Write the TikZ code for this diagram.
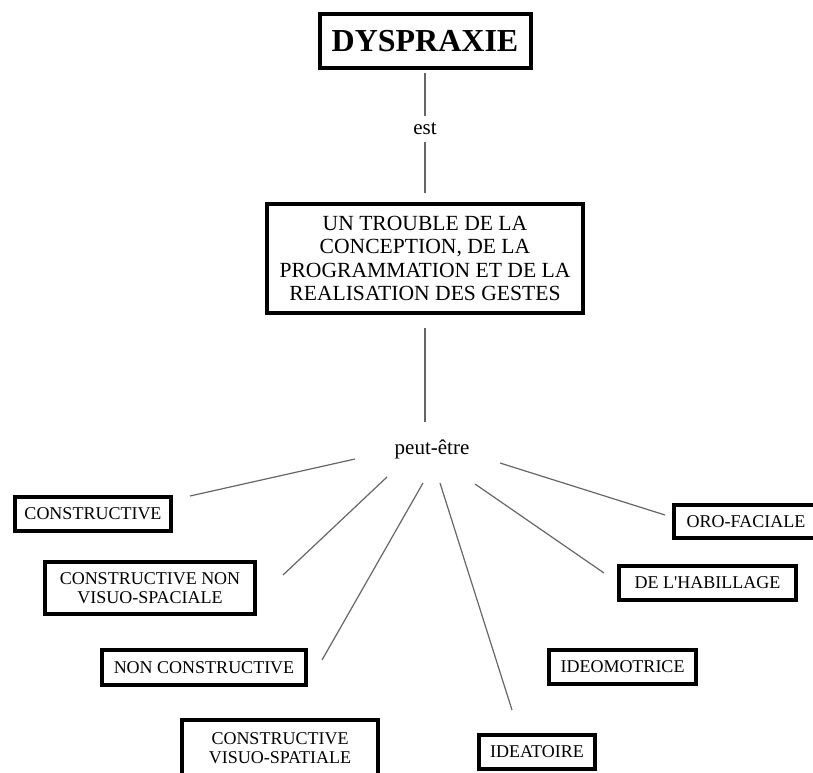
\documentclass[tikz,border=0pt]{standalone}
\usepackage{fontspec}
\setmainfont{Liberation Serif}

\begin{document}
\begin{tikzpicture}[x=0.5pt,y=-0.5pt,
    box/.style={draw, line width=2pt, inner xsep=2pt, inner ysep=1pt, align=center,
                font=\fontsize{9}{9.3}\selectfont, minimum height=17pt},
    lbl/.style={inner sep=3.5pt, outer sep=0pt, font=\fontsize{10.5}{12}\selectfont},
    link/.style={draw=black!60, line width=0.6pt}]
\useasboundingbox (0,0) rectangle (813,772);

\node[box, minimum width=105.5pt, minimum height=27pt, font=\fontsize{16}{19}\selectfont\bfseries] (dys) at (425,41) {DYSPRAXIE};
\node[lbl] (est) at (425,129) {est};
\node[box, minimum width=158pt, minimum height=54.5pt, font=\fontsize{10.8}{11.6}\selectfont] (trouble) at (425,258.5)
    {UN TROUBLE DE LA\\CONCEPTION, DE LA\\PROGRAMMATION ET DE LA\\REALISATION DES GESTES};
\node[lbl] (peut) at (432,449) {peut-être};

% types
\node[box, minimum width=78pt] (constr) at (93,514) {CONSTRUCTIVE};
\node[box, minimum width=105pt, minimum height=26pt] (cnvs) at (150,588) {CONSTRUCTIVE NON\\VISUO-SPACIALE};
\node[box, minimum width=102pt, minimum height=17.5pt] (noncon) at (204,667.5) {NON CONSTRUCTIVE};
\node[box, minimum width=98pt, minimum height=28pt] (cvs) at (280,748) {CONSTRUCTIVE\\VISUO-SPATIALE};
\node[box, minimum width=58pt] (ideat) at (537,752) {IDEATOIRE};
\node[box, minimum width=73.5pt] (ideo) at (622.5,667) {IDEOMOTRICE};
\node[box, minimum width=88.5pt] (habil) at (707.5,583) {DE L\textquotesingle HABILLAGE};
\node[box, minimum width=72pt, minimum height=16.5pt] (oro) at (746,521.5) {ORO-FACIALE};

\draw[link, shorten <=1.5pt] (dys.south) -- (est.north);
\draw[link, shorten >=4.5pt] (est.south) -- (trouble.north);
\draw[link, shorten <=6.5pt, shorten >=5.3pt] (trouble.south) -- (trouble.south |- peut.north);

\draw[link] ([shift={(-77,10)}]peut.center) -- ([shift={(17,1)}]constr.north east);
\draw[link] ([shift={(-45,28)}]peut.center) -- ([shift={(26,15)}]cnvs.north east);
\draw[link] ([shift={(-9,34)}]peut.center) -- ([shift={(14,12)}]noncon.north east);
\draw[link] ([shift={(8,34)}]peut.center) -- ([shift={(-25,-23)}]ideat.north);
\draw[link] ([shift={(43,35)}]peut.center) -- ([shift={(-13,9)}]habil.north west);
\draw[link] ([shift={(68,14)}]peut.center) -- ([shift={(-7,12)}]oro.north west);

\end{tikzpicture}
\end{document}
